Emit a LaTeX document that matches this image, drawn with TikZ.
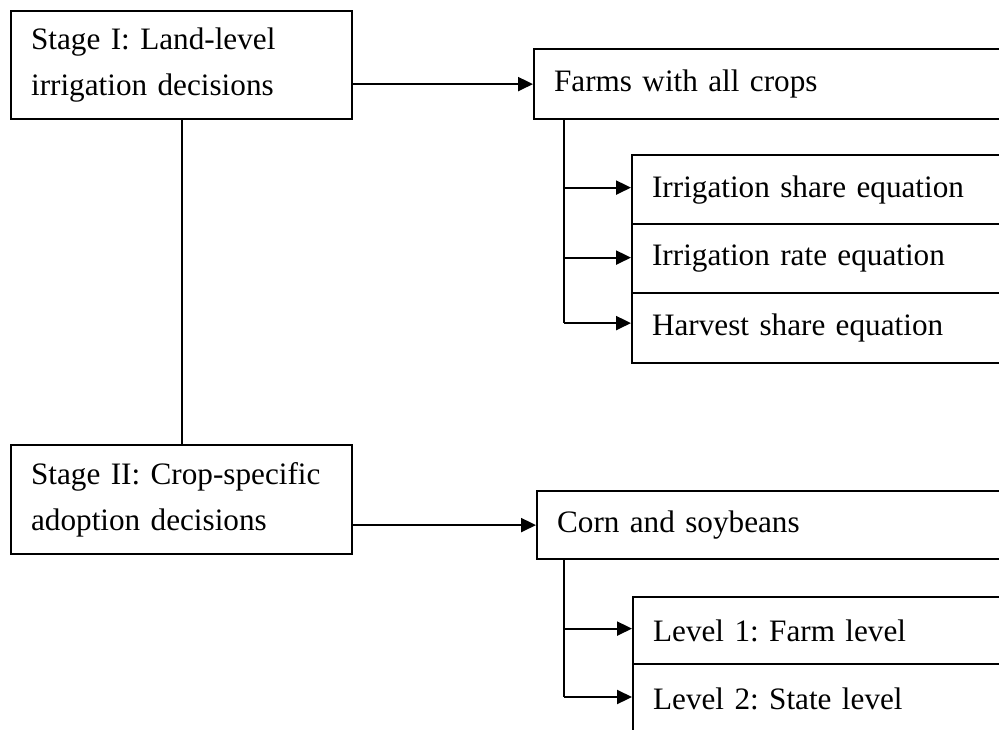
\documentclass[tikz,border=0pt]{standalone}
\usepackage{fontspec}
\setmainfont{Liberation Serif}
\usetikzlibrary{arrows.meta}
\frenchspacing
\begin{document}
\begin{tikzpicture}[x=1pt,y=-1pt,
  box/.style={draw, line width=2.2pt, rectangle, anchor=north west, inner xsep=20pt, inner ysep=0pt,
    align=left, font=\frenchspacing\fontsize{31.2}{46}\selectfont},
  conn/.style={line width=2.2pt, -{Triangle[length=15pt,width=14pt]}},
  plainline/.style={line width=1.8pt}
]
\clip (0,0) rectangle (999,729);
\fill[white] (0,0) rectangle (999,729);
% left stage boxes
\node[box, minimum width=341pt, minimum height=108pt, text width=301pt] (s1) at (10,10) {Stage I: Land-level\\irrigation decisions};
\node[box, minimum width=341pt, minimum height=109pt, text width=301pt] (s2) at (10,444) {Stage II: Crop-specific\\adoption decisions};
% upper right
\node[box, minimum width=487pt, minimum height=70pt, text width=447pt] (farms) at (533,48) {Farms with all crops};
\node[box, minimum width=400pt, minimum height=69pt, text width=360pt] (a1) at (631,154) {Irrigation share equation};
\node[box, minimum width=400pt, minimum height=69pt, text width=360pt] (a2) at (631,223) {Irrigation rate equation};
\node[box, minimum width=400pt, minimum height=70pt, text width=360pt] (a3) at (631,292) {Harvest share equation};
% lower right
\node[box, minimum width=484pt, minimum height=68pt, text width=444pt] (corn) at (536,490) {Corn and soybeans};
\node[box, minimum width=400pt, minimum height=67pt, text width=360pt] (b1) at (632,596) {Level 1: Farm level};
\node[box, minimum width=400pt, minimum height=69pt, text width=360pt] (b2) at (632,663) {Level 2: State level};
% target points on box edges
\coordinate (a1t) at ([yshift=2pt]a1.west);
\coordinate (a2t) at ([yshift=1pt]a2.west);
\coordinate (a3t) at ([yshift=5pt]a3.west);
\coordinate (b1t) at ([yshift=2pt]b1.west);
\coordinate (b2t) at ([yshift=-34pt]b2.north west);
% connectors
\draw[plainline] (s1.south) -- (s2.north);
\draw[conn] (s1.east |- farms.west) -- (farms.west);
\draw[conn] (s2.east |- corn.west) -- (corn.west);
\coordinate (fx) at ([xshift=31pt]farms.south west);
\coordinate (cx) at ([xshift=28pt]corn.south west);
\draw[line width=2.2pt] (fx) -- (fx |- a3t);
\draw[conn] (fx |- a1t) -- (a1t);
\draw[conn] (fx |- a2t) -- (a2t);
\draw[conn] (fx |- a3t) -- (a3t);
\draw[line width=2.2pt] (cx) -- (cx |- b2t);
\draw[conn] (cx |- b1t) -- (b1t);
\draw[conn] (cx |- b2t) -- (b2t);
\end{tikzpicture}
\end{document}
